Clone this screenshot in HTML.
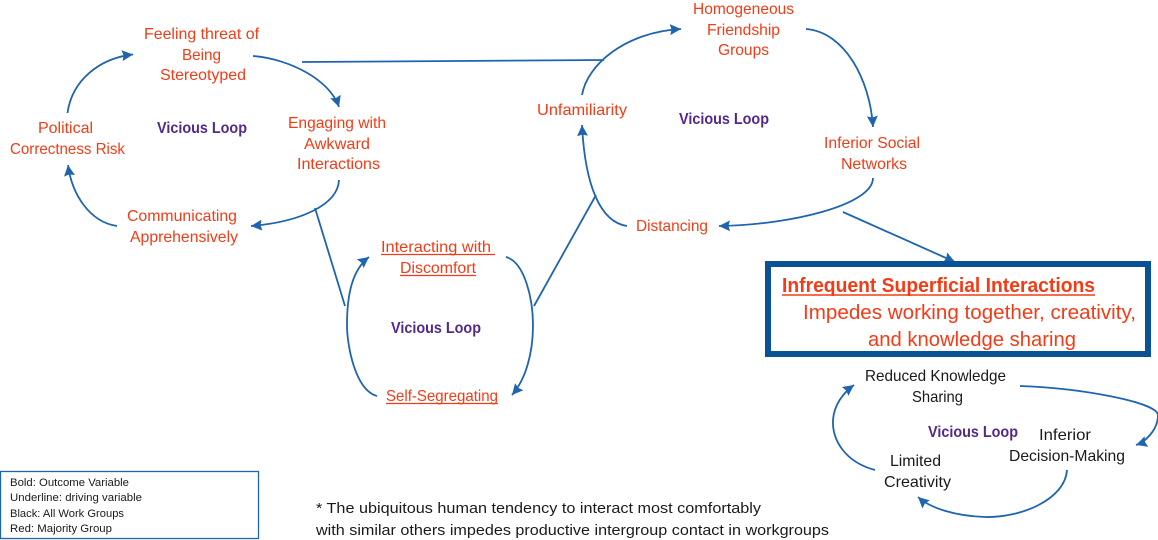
<!DOCTYPE html>
<html>
<head>
<meta charset="utf-8">
<style>
html,body{margin:0;padding:0;background:#fff}
svg{display:block}
text{font-family:"Liberation Sans",sans-serif;font-size:15.7px}
.r{fill:#f23c17}
.k{fill:#1a1a1a}
.v{fill:#54288c;font-weight:bold;font-size:15.5px}
.l{fill:#1a1a1a;font-size:11px}
.f{fill:#1a1a1a;font-size:15px}
.c{fill:none;stroke:#1f64ae;stroke-width:1.8}
.u{stroke:#f23c17;stroke-width:1.2}
</style>
</head>
<body>
<svg xmlns="http://www.w3.org/2000/svg" width="1158" height="540" viewBox="0 0 1158 540">
<defs>
<marker id="a" markerUnits="userSpaceOnUse" markerWidth="13" markerHeight="12" refX="11" refY="5.5" orient="auto">
<path d="M0 0L11 5.5L0 11L1.5 5.5Z" fill="#1f64ae"/>
</marker>
</defs>

<!-- connectors -->
<path class="c" marker-end="url(#a)" d="M67.5 113C72 80 100 58 133 54.5"/>
<path class="c" marker-end="url(#a)" d="M253 56C290 59 330 80 339 107"/>
<path class="c" marker-end="url(#a)" d="M339 180C338 205 300 222 251 226"/>
<path class="c" marker-end="url(#a)" d="M117 226C90 222 72 195 68 165"/>
<path class="c" d="M302 62L604 60"/>
<path class="c" d="M315 208L345 306"/>
<path class="c" marker-end="url(#a)" d="M377 396C355 390 347 345 347 325C347 295 352 270 369 257"/>
<path class="c" marker-end="url(#a)" d="M506 257C525 262 533 300 533 325C533 355 525 380 512 395"/>
<path class="c" d="M534 306L596 195"/>
<path class="c" marker-end="url(#a)" d="M627 226C600 222 585 185 582 125"/>
<path class="c" marker-end="url(#a)" d="M582 95C587 65 625 32 681 29"/>
<path class="c" marker-end="url(#a)" d="M806 29C845 32 870 80 873 127"/>
<path class="c" marker-end="url(#a)" d="M873 178C873 205 790 225 719 226"/>
<path class="c" marker-end="url(#a)" d="M843 212L955 262"/>
<path class="c" marker-end="url(#a)" d="M1020 386C1080 388 1157 402 1158 415C1158 430 1145 442 1136 445"/>
<path class="c" marker-end="url(#a)" d="M1067 470C1065 500 1020 518 985 517C955 516 930 508 918 497"/>
<path class="c" marker-end="url(#a)" d="M875 470C845 462 832 440 833 420C834 405 843 393 854 385"/>

<!-- outcome box -->
<rect x="768" y="264" width="380" height="90" fill="#fff" stroke="#0a5296" stroke-width="6"/>
<!-- legend -->
<rect x="0.5" y="471.5" width="258" height="67" fill="#fff" stroke="#1f64ae" stroke-width="1.3"/>

<!-- top-left loop -->
<text class="r" x="144" y="39" textLength="115" lengthAdjust="spacingAndGlyphs">Feeling threat of</text>
<text class="r" x="182" y="60" textLength="39" lengthAdjust="spacingAndGlyphs">Being</text>
<text class="r" x="160" y="80" textLength="86" lengthAdjust="spacingAndGlyphs">Stereotyped</text>
<text class="r" x="38" y="133" textLength="55" lengthAdjust="spacingAndGlyphs">Political</text>
<text class="r" x="10" y="154" textLength="115" lengthAdjust="spacingAndGlyphs">Correctness Risk</text>
<text class="v" x="157" y="133" textLength="90" lengthAdjust="spacingAndGlyphs">Vicious Loop</text>
<text class="r" x="288" y="128" textLength="98" lengthAdjust="spacingAndGlyphs">Engaging with</text>
<text class="r" x="304" y="149" textLength="66" lengthAdjust="spacingAndGlyphs">Awkward</text>
<text class="r" x="297" y="169" textLength="83" lengthAdjust="spacingAndGlyphs">Interactions</text>
<text class="r" x="127" y="221" textLength="110" lengthAdjust="spacingAndGlyphs">Communicating</text>
<text class="r" x="130" y="242" textLength="108" lengthAdjust="spacingAndGlyphs">Apprehensively</text>

<!-- middle loop -->
<text class="r" x="381" y="252" textLength="110" lengthAdjust="spacingAndGlyphs">Interacting with</text>
<line class="u" x1="381" y1="254.5" x2="495" y2="254.5"/>
<text class="r" x="400" y="273" textLength="76" lengthAdjust="spacingAndGlyphs">Discomfort</text>
<line class="u" x1="400" y1="275.5" x2="476" y2="275.5"/>
<text class="v" x="391" y="333" textLength="90" lengthAdjust="spacingAndGlyphs">Vicious Loop</text>
<text class="r" x="386" y="401" textLength="112" lengthAdjust="spacingAndGlyphs">Self-Segregating</text>
<line class="u" x1="386" y1="403.5" x2="498" y2="403.5"/>

<!-- top-right loop -->
<text class="r" x="693" y="14" textLength="101" lengthAdjust="spacingAndGlyphs">Homogeneous</text>
<text class="r" x="707" y="35" textLength="73" lengthAdjust="spacingAndGlyphs">Friendship</text>
<text class="r" x="718" y="55" textLength="51" lengthAdjust="spacingAndGlyphs">Groups</text>
<text class="r" x="537" y="115" textLength="90" lengthAdjust="spacingAndGlyphs">Unfamiliarity</text>
<text class="v" x="679" y="124" textLength="90" lengthAdjust="spacingAndGlyphs">Vicious Loop</text>
<text class="r" x="824" y="148" textLength="96" lengthAdjust="spacingAndGlyphs">Inferior Social</text>
<text class="r" x="841" y="169" textLength="66" lengthAdjust="spacingAndGlyphs">Networks</text>
<text class="r" x="636" y="231" textLength="72" lengthAdjust="spacingAndGlyphs">Distancing</text>

<!-- outcome box text -->
<text class="r" x="782" y="292" textLength="313" lengthAdjust="spacingAndGlyphs" style="font-size:20px;font-weight:bold">Infrequent Superficial Interactions</text>
<line x1="782" y1="295" x2="1095" y2="295" stroke="#f23c17" stroke-width="1.6"/>
<text class="r" x="803" y="319" textLength="333" lengthAdjust="spacingAndGlyphs" style="font-size:20.5px">Impedes working together, creativity,</text>
<text class="r" x="868" y="346" textLength="208" lengthAdjust="spacingAndGlyphs" style="font-size:20.5px">and knowledge sharing</text>

<!-- bottom loop -->
<text class="k" x="865" y="381" textLength="141" lengthAdjust="spacingAndGlyphs">Reduced Knowledge</text>
<text class="k" x="912" y="402" textLength="51" lengthAdjust="spacingAndGlyphs">Sharing</text>
<text class="v" x="928" y="437" textLength="90" lengthAdjust="spacingAndGlyphs">Vicious Loop</text>
<text class="k" x="1039" y="440" textLength="52" lengthAdjust="spacingAndGlyphs">Inferior</text>
<text class="k" x="1009" y="461" textLength="116" lengthAdjust="spacingAndGlyphs">Decision-Making</text>
<text class="k" x="890" y="466" textLength="51" lengthAdjust="spacingAndGlyphs">Limited</text>
<text class="k" x="884" y="487" textLength="67" lengthAdjust="spacingAndGlyphs">Creativity</text>

<!-- legend text -->
<text class="l" x="10" y="486" textLength="119" lengthAdjust="spacingAndGlyphs">Bold: Outcome Variable</text>
<text class="l" x="10" y="501" textLength="132" lengthAdjust="spacingAndGlyphs">Underline: driving variable</text>
<text class="l" x="10" y="517" textLength="114" lengthAdjust="spacingAndGlyphs">Black: All Work Groups</text>
<text class="l" x="10" y="532" textLength="102" lengthAdjust="spacingAndGlyphs">Red: Majority Group</text>

<!-- footnote -->
<text class="f" x="316" y="513" textLength="445" lengthAdjust="spacingAndGlyphs">* The ubiquitous human tendency to interact most comfortably</text>
<text class="f" x="316" y="535" textLength="513" lengthAdjust="spacingAndGlyphs">with similar others impedes productive intergroup contact in workgroups</text>
</svg>
</body>
</html>
